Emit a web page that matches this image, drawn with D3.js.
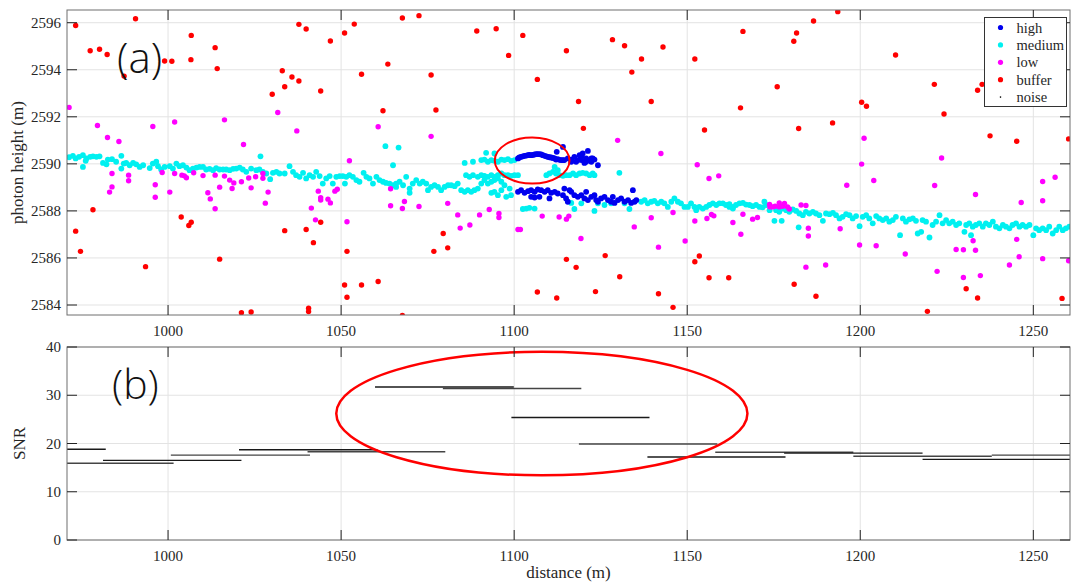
<!DOCTYPE html>
<html>
<head>
<meta charset="utf-8">
<script src="https://cdn.jsdelivr.net/npm/d3@7"></script>
<style>
  body { margin: 0; background: #fff; }
  svg text { font-family: "Liberation Serif", "Times New Roman", serif; fill: #262626; }
  .panel-label { font-family: "Open Sans", "Noto Sans", sans-serif; font-weight: 300; fill: #111; }
</style>
</head>
<body>
<svg id="chart" width="1071" height="583"></svg>
<script>
// photon points, [distance (m), height (m)]
const highPts = [
  [1101.1,2590.23],[1101.5,2590.27],[1102.0,2590.30],[1102.5,2590.32],[1103.0,2590.34],[1103.5,2590.35],
  [1104.0,2590.37],[1104.4,2590.38],[1104.9,2590.37],[1105.4,2590.38],[1105.9,2590.40],[1106.4,2590.41],
  [1106.8,2590.41],[1107.3,2590.41],[1107.8,2590.40],[1108.3,2590.37],[1108.8,2590.34],[1109.3,2590.32],
  [1109.7,2590.30],[1110.2,2590.28],[1110.7,2590.27],[1111.2,2590.25],[1111.7,2590.23],[1112.1,2590.18],
  [1112.3,2590.51],[1112.6,2590.20],[1113.1,2590.17],[1113.6,2590.16],[1114.1,2590.72],[1114.1,2590.16],
  [1114.5,2590.16],[1115.5,2590.23],[1116.5,2590.18],[1116.5,2590.09],[1117.4,2590.30],[1117.9,2590.09],
  [1118.4,2590.16],[1118.9,2590.37],[1119.4,2590.16],[1119.4,2590.30],[1119.8,2590.44],[1120.3,2590.04],
  [1120.8,2590.23],[1120.8,2590.09],[1121.3,2590.55],[1121.8,2590.16],[1122.3,2590.09],[1122.3,2590.23],
  [1122.7,2590.23],[1123.2,2590.18],[1124.2,2589.94],
  [1101.1,2588.81],[1102.0,2588.88],[1103.0,2588.77],[1104.0,2588.84],[1104.9,2588.88],[1105.9,2588.81],
  [1106.8,2588.91],[1107.8,2588.88],[1108.8,2588.81],[1109.7,2588.88],[1110.7,2588.77],[1111.7,2588.81],
  [1112.6,2588.74],[1110.2,2588.53],[1104.9,2588.60],[1105.9,2588.57],[1107.3,2588.60],[1114.5,2588.95],
  [1116.0,2588.88],[1114.1,2588.67],[1115.0,2588.53],[1115.5,2588.39],[1116.5,2588.81],[1117.4,2588.67],
  [1118.4,2588.60],[1119.4,2588.67],[1120.3,2588.53],[1120.8,2588.81],[1121.3,2588.46],[1122.3,2588.60],
  [1123.2,2588.67],[1123.7,2588.46],[1124.2,2588.39],[1125.1,2588.53],[1126.1,2588.60],[1127.1,2588.46],
  [1128.0,2588.39],[1128.5,2588.60],[1129.0,2588.34],[1130.0,2588.46],[1130.9,2588.53],[1131.9,2588.39],
  [1132.9,2588.46],[1133.8,2588.34],[1134.3,2588.88],[1134.8,2588.39],[1135.3,2588.46]
];

const mediumPts = [
  [971.4,2590.28],[972.5,2590.34],[973.3,2590.23],[974.3,2590.30],[975.4,2590.37],[975.4,2589.87],
  [976.4,2590.23],[977.5,2590.30],[978.3,2590.32],[979.3,2590.30],[980.2,2590.32],[976.2,2590.13],
  [981.2,2590.04],[982.2,2589.98],[982.6,2590.18],[983.8,2590.20],[985.0,2590.09],[986.5,2590.34],
  [986.5,2589.80],[987.2,2590.01],[987.9,2590.04],[988.9,2589.94],[989.9,2590.04],[990.8,2589.98],
  [991.8,2589.87],[992.8,2589.94],[994.7,2589.82],[995.6,2590.01],[996.6,2590.09],[997.1,2589.90],
  [998.0,2589.76],[999.0,2589.87],[1000.5,2589.90],[1001.4,2589.80],[1002.4,2590.01],[1003.3,2589.90],
  [1004.3,2589.94],[1005.3,2589.84],[1006.2,2589.73],[1007.2,2589.80],[1008.2,2589.84],[1009.1,2589.87],
  [1010.1,2589.87],[1011.0,2589.76],[1012.0,2589.79],[1013.0,2589.73],[1013.9,2589.82],[1014.9,2589.76],
  [1015.9,2589.76],[1016.8,2589.76],[1017.8,2589.73],[1018.8,2589.79],[1019.7,2589.80],[1020.7,2589.84],
  [1021.6,2589.76],[1022.6,2589.66],[1024.0,2589.80],[1025.5,2589.73],[1026.4,2589.76],[1026.7,2590.32],
  [1027.4,2589.66],[1028.4,2589.59],[1029.5,2589.35],[1030.3,2589.62],[1031.3,2589.66],[1032.2,2589.59],
  [1033.7,2589.59],[1035.1,2589.90],[1036.1,2589.66],[1037.0,2589.52],[1038.0,2589.45],[1039.0,2589.62],
  [1039.9,2589.38],[1040.9,2589.52],[1041.9,2589.45],[1042.8,2589.66],[1043.8,2589.48],[1044.7,2589.16],
  [1045.7,2589.38],[1046.7,2589.48],[1047.6,2589.16],[1048.6,2589.45],[1049.6,2589.48],[1050.5,2589.48],
  [1051.1,2589.16],[1051.5,2589.45],[1052.4,2589.52],[1053.4,2589.45],[1054.4,2589.31],[1055.3,2589.24],
  [1056.5,2589.62],[1057.3,2589.45],[1058.2,2589.38],[1059.2,2589.16],[1060.2,2589.45],[1061.1,2589.31],
  [1062.1,2589.24],[1063.0,2589.19],[1064.0,2589.16],[1065.0,2589.09],[1065.9,2589.02],[1065.0,2589.94],
  [1062.8,2590.75],[1066.6,2590.69],
  [1065.9,2589.16],[1066.9,2589.24],[1067.9,2589.09],[1068.8,2589.45],[1069.8,2588.95],[1069.8,2588.77],
  [1070.7,2589.16],[1071.7,2589.31],[1072.7,2589.16],[1073.6,2589.24],[1074.6,2589.16],[1075.1,2588.88],
  [1076.0,2589.02],[1077.0,2589.09],[1078.0,2589.02],[1078.9,2588.88],[1079.9,2589.02],[1080.9,2589.09],
  [1081.8,2589.09],[1082.8,2589.05],[1083.7,2589.16],[1084.7,2588.88],[1085.7,2588.81],[1086.6,2588.88],
  [1087.6,2588.81],[1088.5,2588.88],[1089.5,2588.95],[1086.1,2589.52],[1087.1,2589.45],[1088.1,2589.52],
  [1089.5,2589.45],[1090.5,2589.52],[1091.4,2589.49],[1092.4,2589.45],[1093.4,2589.52],[1094.3,2589.45],
  [1095.3,2589.52],[1096.3,2589.59],[1097.2,2589.52],[1098.2,2589.52],[1099.1,2589.49],[1100.1,2589.52],
  [1101.1,2589.52],[1090.5,2589.16],[1091.4,2589.31],[1092.4,2589.16],[1093.4,2589.24],[1094.3,2589.31],
  [1095.3,2589.38],[1096.3,2589.24],[1097.2,2589.09],[1093.4,2588.77],[1094.3,2588.81],[1095.3,2588.67],
  [1096.3,2588.88],[1098.7,2588.95],[1099.1,2588.67],[1097.7,2588.60],
  [1085.7,2590.04],[1088.1,2590.09],[1090.5,2590.16],[1091.4,2590.18],[1092.4,2590.09],[1093.4,2590.16],
  [1094.3,2590.13],[1095.3,2590.09],[1096.3,2590.18],[1097.2,2590.16],[1098.2,2590.20],[1099.1,2590.13],
  [1100.1,2590.16],[1091.9,2590.47],[1094.3,2590.44],
  [1109.3,2589.52],[1110.2,2589.59],[1111.2,2589.66],[1112.1,2589.59],[1113.1,2589.52],[1114.1,2589.49],
  [1115.0,2589.52],[1116.0,2589.52],[1117.0,2589.59],[1117.9,2589.52],[1118.9,2589.59],[1119.8,2589.62],
  [1120.8,2589.59],[1121.8,2589.52],[1122.7,2589.59],[1123.2,2589.52],[1111.7,2589.87],[1112.6,2589.73],
  [1130.4,2589.62],
  [1102.5,2588.08],[1103.5,2588.10],[1104.4,2588.13],[1105.9,2588.10],[1116.5,2588.34],[1117.4,2588.08],
  [1119.4,2588.32],[1123.2,2588.00],[1124.2,2588.32],[1126.1,2588.25],[1128.0,2588.32],[1131.9,2588.32],
  [1133.3,2588.08],
  [1136.7,2588.39],[1137.7,2588.46],[1138.6,2588.32],[1139.6,2588.39],[1140.5,2588.43],[1141.5,2588.32],
  [1142.5,2588.39],[1143.4,2588.32],[1144.4,2588.17],[1145.4,2588.39],[1146.3,2588.53],[1147.3,2588.39],
  [1148.2,2588.32],[1149.2,2588.17],[1150.2,2588.17],[1151.1,2588.32],[1152.1,2588.17],[1152.6,2588.03],
  [1153.5,2588.17],[1154.5,2588.10],[1155.5,2588.17],[1156.4,2588.25],[1157.4,2588.32],[1158.4,2588.25],
  [1159.3,2588.32],[1160.3,2588.32],[1161.2,2588.25],[1162.2,2588.17],[1163.2,2588.10],
  [1162.2,2588.29],[1163.2,2588.17],[1164.1,2588.25],[1165.1,2588.32],[1166.1,2588.34],[1167.0,2588.27],
  [1168.0,2588.25],[1168.9,2588.20],[1169.9,2588.25],[1170.9,2588.17],[1171.8,2588.15],[1172.3,2588.39],
  [1172.8,2588.25],[1173.8,2588.03],[1175.2,2587.58],[1175.7,2588.03],[1176.6,2587.96],[1177.3,2587.58],
  [1177.6,2588.10],[1178.6,2588.03],[1179.5,2587.96],[1180.5,2588.06],[1181.5,2588.00],[1182.2,2587.30],
  [1182.4,2587.89],[1183.4,2587.82],[1184.3,2587.96],[1185.3,2587.89],[1186.3,2587.96],[1187.2,2587.89],
  [1188.2,2587.82],[1189.2,2587.58],[1190.1,2587.89],[1191.1,2587.86],[1192.1,2587.92],[1193.0,2587.82],
  [1194.0,2587.68],[1194.9,2587.75],[1195.9,2587.86],[1196.9,2587.82],[1197.8,2587.68],[1198.8,2587.78],
  [1199.8,2587.35],[1200.7,2587.75],[1201.7,2587.82],[1202.6,2587.68],[1203.6,2587.47],[1204.6,2587.78],
  [1205.5,2587.68],[1206.5,2587.61],[1207.5,2587.68],[1208.4,2587.54],[1209.4,2587.61],[1210.3,2587.75],
  [1211.5,2586.97],[1212.3,2587.68],[1213.2,2587.54],[1214.2,2587.64],[1215.2,2587.68],[1216.1,2587.58],
  [1216.6,2587.04],[1217.6,2587.11],[1218.0,2587.61],[1219.0,2587.54],[1220.0,2586.87],[1220.9,2587.40],
  [1221.9,2587.54],[1222.9,2587.82],[1223.8,2587.47],[1224.8,2587.61],[1225.7,2587.47],[1226.7,2587.54],
  [1227.7,2587.40],[1228.6,2587.47],[1230.1,2587.11],[1230.6,2587.40],[1231.5,2587.47],[1232.0,2586.97],
  [1232.5,2587.33],[1233.4,2587.40],[1234.4,2587.47],[1235.4,2587.33],[1236.3,2587.47],[1237.3,2587.40],
  [1238.3,2587.54],[1239.2,2587.33],[1240.2,2587.26],[1241.2,2587.40],[1242.1,2587.33],[1243.1,2587.26],
  [1244.0,2587.40],[1245.0,2587.47],[1246.0,2587.33],[1246.9,2587.40],[1247.9,2587.33],[1248.9,2587.40],
  [1250.0,2586.97],[1250.8,2587.26],[1251.7,2587.18],[1252.7,2587.26],[1253.7,2587.18],[1254.6,2587.33],
  [1255.6,2587.04],[1256.6,2587.18],[1257.5,2587.33],[1258.5,2587.18],[1259.4,2587.26],[1260.4,2587.33]
];

const lowPts = [
  [971.4,2592.40],[979.6,2591.63],[982.5,2591.12],[985.8,2590.95],[983.8,2589.59],[983.1,2588.80],
  [983.8,2589.02],[988.6,2589.52],[988.6,2589.28],[995.6,2591.59],[996.3,2589.11],[996.3,2588.58],
  [998.3,2589.63],[1000.5,2588.80],[1001.9,2591.78],[1001.9,2589.59],[1004.0,2589.52],[1004.7,2589.49],
  [1005.3,2589.41],[1007.4,2589.62],[1010.1,2589.50],[1011.5,2588.77],[1012.2,2588.51],[1013.6,2588.09],
  [1013.6,2589.52],[1014.9,2589.01],[1016.3,2591.87],[1016.3,2589.48],[1017.8,2589.31],[1018.5,2588.95],
  [1019.0,2589.19],[1021.2,2589.24],[1021.8,2590.82],[1023.3,2589.40],[1024.0,2588.98],[1025.3,2589.45],
  [1027.4,2589.59],[1027.4,2589.39],[1028.1,2588.33],[1028.9,2588.80],[1031.7,2592.18],[1037.2,2591.40],
  [1041.4,2588.12],[1042.6,2587.62],[1043.4,2588.84],[1044.1,2588.56],[1044.1,2588.46],[1046.2,2588.50],
  [1046.9,2588.34],[1048.2,2588.84],[1048.9,2588.92],[1052.4,2590.13],[1051.7,2587.54],[1060.7,2591.58],
  [1064.3,2588.94],[1064.3,2588.22],
  [1076.0,2591.17],[1068.3,2588.40],[1067.7,2588.10],[1072.5,2588.19],[1080.8,2588.32],[1083.7,2587.83],
  [1084.4,2587.27],[1087.2,2587.40],[1090.0,2587.83],[1092.8,2588.06],[1095.6,2587.89],[1095.6,2587.72],
  [1101.1,2587.21],[1101.8,2587.21],[1108.1,2587.78],[1113.0,2587.74],[1115.1,2587.65],[1115.8,2587.78],
  [1119.3,2586.83],[1129.9,2591.00],[1134.7,2587.32],[1139.6,2587.71],[1141.7,2586.46],[1142.4,2590.44],
  [1145.9,2587.93],[1149.4,2586.72],[1152.2,2587.57],[1152.9,2589.96],[1155.7,2587.68],[1157.0,2587.85],
  [1157.7,2587.79],[1156.3,2589.38],[1159.1,2589.49],[1163.2,2587.51],
  [1166.1,2587.86],[1165.5,2587.01],[1168.9,2587.65],[1170.3,2587.72],[1173.8,2588.27],[1173.9,2588.17],
  [1174.7,2588.17],[1175.4,2588.20],[1176.6,2588.34],[1176.6,2588.17],[1177.6,2588.20],[1178.1,2588.32],
  [1179.0,2588.17],[1179.5,2588.08],[1182.9,2588.25],[1184.3,2588.23],[1185.0,2587.26],[1185.0,2586.93],
  [1184.3,2585.61],[1190.0,2585.70],[1194.2,2587.24],[1196.1,2589.09],[1200.4,2589.99],[1201.1,2591.09],
  [1199.8,2586.55],[1203.9,2589.29],[1204.6,2586.52],[1213.0,2586.17],[1221.5,2589.08],[1223.5,2590.25],
  [1222.2,2585.43],[1227.7,2586.36],[1229.8,2586.35],[1229.8,2585.17],[1232.6,2586.73],[1233.3,2588.70],
  [1233.3,2586.33],[1234.7,2585.25],[1243.1,2585.70],[1245.2,2586.79],[1245.9,2586.05],[1246.5,2588.36],
  [1252.7,2589.25],[1252.7,2588.43],[1252.7,2585.97],[1256.3,2589.43],[1260.2,2585.88]
];

const bufferPts = [
  [973.3,2595.88],[990.6,2596.17],[977.5,2594.81],[980.2,2594.87],[982.4,2594.65],[987.3,2593.73],
  [999.0,2594.37],[1001.1,2594.36],[1006.7,2595.46],[1006.6,2594.43],[1013.6,2594.94],[1014.2,2594.05],
  [978.3,2588.05],[973.3,2587.14],[974.7,2586.28],[993.5,2585.63],[1003.8,2587.74],[1006.7,2587.52],
  [1006.0,2587.38],[1014.9,2585.95],[1021.2,2583.67],[1024.0,2583.70],[1037.8,2595.93],[1039.9,2595.73],
  [1030.1,2592.96],[1033.0,2593.96],[1035.8,2593.69],[1037.8,2593.52],[1033.7,2593.28],[1044.1,2593.10],
  [1046.9,2595.22],[1051.0,2595.56],[1053.8,2595.94],[1055.9,2593.81],[1063.5,2594.24],[1062.1,2592.26],
  [1033.7,2587.16],[1039.9,2587.21],[1044.1,2587.52],[1042.0,2586.65],[1051.0,2584.85],[1051.7,2584.33],
  [1055.9,2584.85],[1060.7,2585.00],[1051.7,2586.28],[1040.6,2583.86],[1040.6,2583.72],
  [1067.7,2596.20],[1072.5,2596.30],[1089.2,2595.65],[1094.8,2595.74],[1102.5,2595.46],[1098.4,2594.61],
  [1076.0,2593.78],[1077.4,2592.29],[1106.7,2593.59],[1115.1,2594.81],[1118.6,2592.65],[1120.0,2591.51],
  [1128.4,2595.28],[1131.9,2595.02],[1136.8,2594.46],[1134.0,2593.90],[1143.0,2594.97],[1139.6,2592.65],
  [1152.2,2594.46],[1155.0,2591.44],[1079.5,2587.04],[1076.8,2586.28],[1080.8,2586.43],[1115.1,2585.94],
  [1117.9,2585.60],[1126.3,2586.10],[1130.5,2585.20],[1106.7,2584.55],[1112.3,2584.30],[1123.5,2584.57],
  [1141.7,2584.48],[1145.9,2583.90],[1152.2,2585.84],[1153.5,2586.08],[1156.3,2585.16],[1162.0,2585.16],
  [1067.7,2583.56],
  [1166.1,2595.63],[1165.4,2592.38],[1176.0,2593.28],[1180.8,2595.21],[1181.6,2595.56],[1186.5,2596.07],
  [1193.5,2596.47],[1182.2,2591.50],[1192.0,2591.74],[1200.4,2592.62],[1201.8,2592.45],[1210.2,2594.63],
  [1221.4,2593.38],[1224.2,2592.12],[1233.9,2593.13],[1235.2,2593.38],[1237.5,2591.19],[1245.2,2590.96],
  [1260.2,2591.06],[1180.9,2584.88],[1187.2,2584.37],[1219.4,2583.73],[1230.6,2584.69],[1233.9,2584.30],
  [1258.3,2584.28]
];

const noisePts = [];

// SNR per along-track window
const snrStart = [942.0, 961.6, 981.2, 1000.8, 1020.5, 1040.3, 1059.8, 1079.4, 1099.2, 1118.7, 1138.5, 1158.1, 1178.0, 1198.0, 1218.0, 1238.0, 1258.0];
const snrEnd   = [982.0, 1001.6, 1021.2, 1041.0, 1060.5, 1080.1, 1099.9, 1119.4, 1139.1, 1158.7, 1178.4, 1198.0, 1218.0, 1238.0, 1258.0, 1278.0, 1298.0];
const snrValue = [18.8, 15.9, 16.5, 17.6, 18.7, 18.3, 31.7, 31.4, 25.4, 19.9, 17.2, 18.2, 18.0, 17.35, 16.7, 17.6, 16.7];

const xTicks = [1000, 1050, 1100, 1150, 1200, 1250];
const heightTicks = [2584, 2586, 2588, 2590, 2592, 2594, 2596];
const snrTicks = [0, 10, 20, 30, 40];

const legendNames = ["high", "medium", "low", "buffer", "noise"];
const legendColors = ["#0000ee", "#00f0f0", "#ff00ff", "#ff0000", "#000000"];

// highlighted regions [cx, cy, rx, ry] in data units
const bumpRing = [1105.2, 2590.14, 10.8, 0.98];
const snrRing = [1108.0, 26.2, 59.4, 12.8];

const svg = d3.select("#chart");
const left = 67, right = 1070;

const x = d3.scaleLinear().domain([970.8, 1260.6]).range([left, right]);
const yTop = d3.scaleLinear().domain([2583.575, 2596.54]).range([315, 10]);
const yBot = d3.scaleLinear().domain([0, 40]).range([540, 347]);

const drawFrame = (g, y, yTicks, id) => {
  const [y0, y1] = y.range();
  // grid
  g.append("g").selectAll("line").data(xTicks).join("line")
    .attr("x1", d => x(d)).attr("x2", d => x(d))
    .attr("y1", y1).attr("y2", y0)
    .attr("stroke", "#e3e3e3").attr("stroke-width", 1);
  g.append("g").selectAll("line").data(yTicks).join("line")
    .attr("x1", left).attr("x2", right)
    .attr("y1", d => y(d)).attr("y2", d => y(d))
    .attr("stroke", "#e3e3e3").attr("stroke-width", 1);
  g.append("clipPath").attr("id", id)
    .append("rect").attr("x", left).attr("y", y1)
    .attr("width", right - left).attr("height", y0 - y1);
  return g.append("g").attr("clip-path", `url(#${id})`);
};

const drawAxes = (g, y, yTicks) => {
  const [y0, y1] = y.range();
  const tl = 10;
  g.append("rect").attr("x", left).attr("y", y1)
    .attr("width", right - left).attr("height", y0 - y1)
    .attr("fill", "none").attr("stroke", "#6e6e6e").attr("stroke-width", 1);
  const t = g.append("g").attr("stroke", "#222").attr("stroke-width", 1);
  xTicks.forEach(d => {
    t.append("line").attr("x1", x(d)).attr("x2", x(d)).attr("y1", y0).attr("y2", y0 - tl);
    t.append("line").attr("x1", x(d)).attr("x2", x(d)).attr("y1", y1).attr("y2", y1 + tl);
  });
  yTicks.forEach(d => {
    t.append("line").attr("x1", left).attr("x2", left + tl).attr("y1", y(d)).attr("y2", y(d));
    t.append("line").attr("x1", right).attr("x2", right - tl).attr("y1", y(d)).attr("y2", y(d));
  });
  g.append("g").selectAll("text").data(xTicks).join("text")
    .attr("x", d => x(d)).attr("y", y0 + 21)
    .attr("text-anchor", "middle").attr("font-size", 15)
    .text(d => d);
  g.append("g").selectAll("text").data(yTicks).join("text")
    .attr("x", left - 6).attr("y", d => y(d) + 5)
    .attr("text-anchor", "end").attr("font-size", 15)
    .text(d => d);
};

const ring = (g, y, r, w) => {
  g.append("ellipse")
    .attr("cx", x(r[0])).attr("cy", y(r[1]))
    .attr("rx", x(r[0] + r[2]) - x(r[0]))
    .attr("ry", Math.abs(y(r[1] + r[3]) - y(r[1])))
    .attr("fill", "none").attr("stroke", "#ff0000").attr("stroke-width", w);
};

// panel (a)
const gA = svg.append("g");
const plotA = drawFrame(gA, yTop, heightTicks, "clipA");
const dots = (pts, color, r) => {
  plotA.append("g").selectAll("circle").data(pts).join("circle")
    .attr("cx", d => x(d[0])).attr("cy", d => yTop(d[1]))
    .attr("r", r).attr("fill", color);
};
dots(mediumPts, legendColors[1], 2.9);
dots(highPts, legendColors[0], 2.9);
dots(lowPts, legendColors[2], 2.7);
dots(bufferPts, legendColors[3], 2.7);
dots(noisePts, legendColors[4], 0.8);
ring(plotA, yTop, bumpRing, 2);
drawAxes(gA, yTop, heightTicks);

gA.append("text").attr("class", "panel-label")
  .attr("x", 117).attr("y", 73).attr("font-size", 42).text("(a)");

gA.append("text")
  .attr("transform", `translate(23,${(10 + 315) / 2}) rotate(-90)`)
  .attr("text-anchor", "middle").attr("font-size", 17)
  .text("photon height (m)");

// legend
const lg = gA.append("g");
lg.append("rect").attr("x", 984.5).attr("y", 17.5).attr("width", 82).attr("height", 89)
  .attr("fill", "#fff").attr("stroke", "#333").attr("stroke-width", 1);
legendNames.forEach((name, i) => {
  const ly = 27.5 + i * 17.4;
  lg.append("circle").attr("cx", 1000.5).attr("cy", ly)
    .attr("r", name === "noise" ? 0.8 : 2.6).attr("fill", legendColors[i]);
  lg.append("text").attr("x", 1016.5).attr("y", ly + 5)
    .attr("font-size", 14.5).text(name);
});

// panel (b)
const gB = svg.append("g");
const plotB = drawFrame(gB, yBot, snrTicks, "clipB");
plotB.append("g").selectAll("line").data(snrValue).join("line")
  .attr("x1", (d, i) => x(snrStart[i])).attr("x2", (d, i) => x(snrEnd[i]))
  .attr("y1", d => yBot(d)).attr("y2", d => yBot(d))
  .attr("stroke", (d, i) => i % 2 ? "#444" : "#1a1a1a").attr("stroke-width", 1.4);
ring(plotB, yBot, snrRing, 2.5);
drawAxes(gB, yBot, snrTicks);

gB.append("text").attr("class", "panel-label")
  .attr("x", 112).attr("y", 399).attr("font-size", 41).text("(b)");

gB.append("text")
  .attr("transform", `translate(25,${(347 + 540) / 2}) rotate(-90)`)
  .attr("text-anchor", "middle").attr("font-size", 17)
  .text("SNR");

svg.append("text").attr("x", (left + right) / 2).attr("y", 578)
  .attr("text-anchor", "middle").attr("font-size", 17)
  .text("distance (m)");
</script>
</body>
</html>
